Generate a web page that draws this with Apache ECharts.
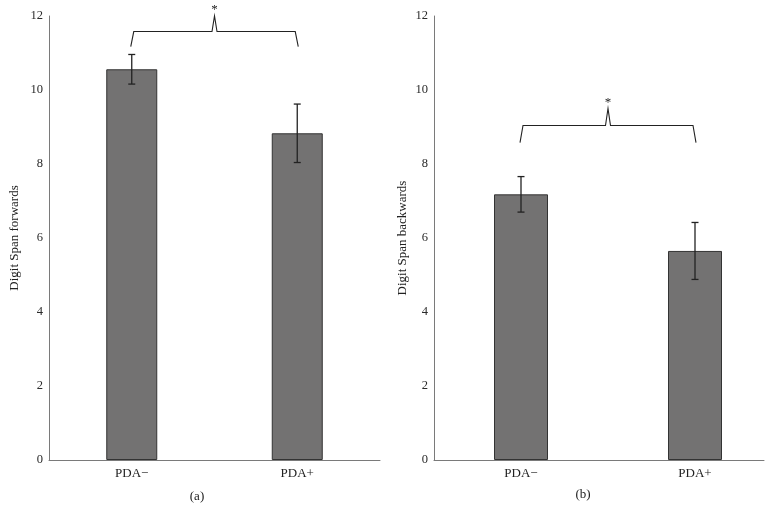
<!DOCTYPE html>
<html>
<head>
<meta charset="utf-8">
<script src="https://cdn.jsdelivr.net/npm/echarts@6/dist/echarts.min.js"></script>
<style>
  html, body { margin: 0; padding: 0; background: #fff; }
  #main { width: 773px; height: 519px; }
</style>
</head>
<body>
<div id="main"></div>
<script>
(function() {
  'use strict';

  // data
  var categories = ['PDA\u2212', 'PDA+'];
  var forwardMean = [10.56, 8.83];
  var forwardErr = [0.40, 0.79];
  var backwardMean = [7.18, 5.65];
  var backwardErr = [0.48, 0.77];
  var yMin = 0, yMax = 12, yStep = 2;
  // significance brackets: [from, to, endLevel, lineLevel, peakLevel]
  var forwardBracket = [0, 1, 11.17, 11.58, 12.0];
  var backwardBracket = [0, 1, 8.58, 9.04, 9.5];

  var font = '"Liberation Serif", "DejaVu Serif", serif';
  var barColor = '#737272';
  var inkColor = '#222';

  function errData(mean, err) {
    return mean.map(function(m, i) {
      return [i, m - err[i], m + err[i]];
    });
  }

  function renderErr(params, api) {
    var lo = api.coord([api.value(0), api.value(1)]);
    var hi = api.coord([api.value(0), api.value(2)]);
    var w = 3.5;
    var st = { stroke: inkColor, lineWidth: 1.3 };
    return {
      type: 'group',
      children: [
        { type: 'line', shape: { x1: lo[0], y1: lo[1], x2: hi[0], y2: hi[1] }, style: st },
        { type: 'line', shape: { x1: hi[0] - w, y1: hi[1], x2: hi[0] + w, y2: hi[1] }, style: st },
        { type: 'line', shape: { x1: lo[0] - w, y1: lo[1], x2: lo[0] + w, y2: lo[1] }, style: st }
      ]
    };
  }

  function renderBracket(params, api) {
    var a = api.coord([api.value(0), api.value(2)]);
    var b = api.coord([api.value(1), api.value(2)]);
    var yl = api.coord([api.value(0), api.value(3)])[1];
    var yp = api.coord([api.value(0), api.value(4)])[1];
    var xm = (a[0] + b[0]) / 2;
    return {
      type: 'group',
      children: [{
        type: 'polyline',
        shape: {
          points: [
            [a[0] - 1, a[1]], [a[0] + 2, yl], [xm - 2.5, yl], [xm, yp],
            [xm + 2.5, yl], [b[0] - 2, yl], [b[0] + 1, b[1]]
          ]
        },
        style: { stroke: inkColor, lineWidth: 1.1, fill: null }
      }, {
        type: 'text',
        x: xm, y: yp - 6,
        style: { text: '*', fontFamily: font, fontSize: 13, fill: inkColor, align: 'center', verticalAlign: 'middle' }
      }]
    };
  }

  function yAxisOf(gridIndex, name, gap, show) {
    return {
      type: 'value', gridIndex: gridIndex, min: yMin, max: yMax, interval: yStep,
      show: show,
      name: name, nameLocation: 'middle', nameGap: gap,
      nameTextStyle: { fontFamily: font, fontSize: 13, color: '#222' },
      axisLine: { show: true, lineStyle: { color: '#7a7a7a', width: 1 } },
      axisTick: { show: false },
      splitLine: { show: false },
      axisLabel: { fontFamily: font, fontSize: 12.5, color: '#2a2a2a', margin: 6 }
    };
  }

  function xAxisOf(gridIndex, showLine, showLabel) {
    return {
      type: 'category', gridIndex: gridIndex, data: categories,
      axisLine: { show: showLine, lineStyle: { color: '#7a7a7a', width: 1 } },
      axisTick: { show: false },
      axisLabel: { show: showLabel, fontFamily: font, fontSize: 13, color: '#222', margin: 7 }
    };
  }

  var myChart = echarts.init(document.getElementById('main'));

  var option = {
    backgroundColor: '#fff',
    animation: false,
    title: [
      { text: '(a)', left: 192, top: 485, textAlign: 'center',
        textStyle: { fontFamily: font, fontSize: 13, fontWeight: 'normal', color: '#222' } },
      { text: '(b)', left: 578, top: 483, textAlign: 'center',
        textStyle: { fontFamily: font, fontSize: 13, fontWeight: 'normal', color: '#222' } }
    ],
    grid: [
      { left: 49, width: 331, top: 16, height: 444, outerBoundsMode: 'none' },
      { left: 434, width: 348, top: 16, height: 444, outerBoundsMode: 'none' },
      { left: 434, width: 330, top: 16, height: 444, outerBoundsMode: 'none' }
    ],
    xAxis: [
      xAxisOf(0, true, true),
      xAxisOf(1, false, true),
      xAxisOf(2, true, false)
    ],
    yAxis: [
      yAxisOf(0, 'Digit Span forwards', 28, true),
      yAxisOf(1, 'Digit Span backwards', 25, true),
      yAxisOf(2, '', 0, false)
    ],
    series: [{
      name: 'forwards', type: 'bar', xAxisIndex: 0, yAxisIndex: 0,
      data: forwardMean, barWidth: 51,
      itemStyle: { color: barColor, borderColor: '#333', borderWidth: 1 }
    }, {
      name: 'backwards', type: 'bar', xAxisIndex: 1, yAxisIndex: 1,
      data: backwardMean, barWidth: 54,
      itemStyle: { color: barColor, borderColor: '#333', borderWidth: 1 }
    }, {
      type: 'custom', xAxisIndex: 0, yAxisIndex: 0, z: 5,
      data: errData(forwardMean, forwardErr), renderItem: renderErr,
      encode: { x: 0, y: [1, 2] }
    }, {
      type: 'custom', xAxisIndex: 1, yAxisIndex: 1, z: 5,
      data: errData(backwardMean, backwardErr), renderItem: renderErr,
      encode: { x: 0, y: [1, 2] }
    }, {
      type: 'custom', xAxisIndex: 0, yAxisIndex: 0, z: 5,
      data: [forwardBracket], renderItem: renderBracket,
      encode: { x: [0, 1], y: [2, 3, 4] }
    }, {
      type: 'custom', xAxisIndex: 1, yAxisIndex: 1, z: 5,
      data: [backwardBracket], renderItem: renderBracket,
      encode: { x: [0, 1], y: [2, 3, 4] }
    }]
  };

  myChart.setOption(option);
}());
</script>
</body>
</html>
